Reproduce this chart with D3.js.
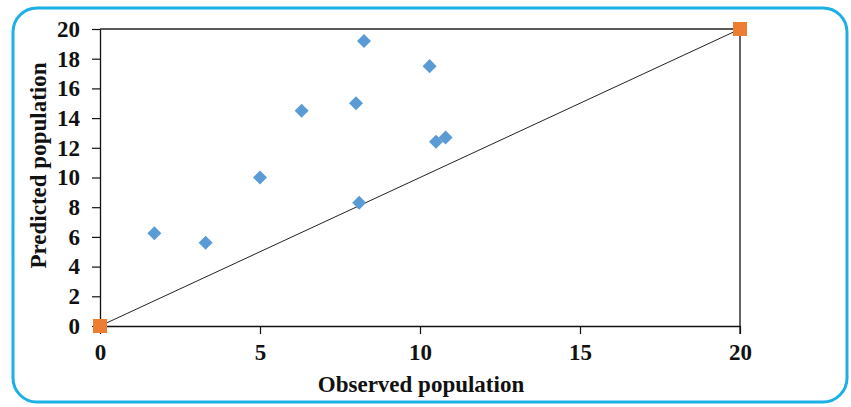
<!DOCTYPE html>
<html lang="en">
<head>
<meta charset="UTF-8">
<title>Observed vs predicted population</title>
<script src="https://d3js.org/d3.v7.min.js"></script>
<style>
  body { margin: 0; background: #fff; }
  svg text { font-family: "Liberation Serif", "Times New Roman", serif; font-weight: bold; }
</style>
</head>
<body>
<svg width="851" height="407"></svg>
<script>
// observed vs predicted (blue diamonds)
const observed  = [1.7, 3.3, 5.0, 6.3, 8.0, 8.25, 8.1, 10.3, 10.5, 10.8];
const predicted = [6.25, 5.6, 10.0, 14.5, 15.0, 19.2, 8.3, 17.5, 12.4, 12.7];
// reference 1:1 points (orange squares)
const refX = [0, 20];
const refY = [0, 20];
const xTicks = [0, 5, 10, 15, 20];
const yTicks = [0, 2, 4, 6, 8, 10, 12, 14, 16, 18, 20];

const svg = d3.select("svg");

// rounded blue frame
svg.append("rect")
   .attr("x", 13).attr("y", 8)
   .attr("width", 834).attr("height", 394)
   .attr("rx", 24).attr("ry", 24)
   .attr("fill", "none")
   .attr("stroke", "#1cb0e6")
   .attr("stroke-width", 3);

const x = d3.scaleLinear().domain([0, 20]).range([100, 740]);
const y = d3.scaleLinear().domain([0, 20]).range([326, 29]);

// top and right plot border
svg.append("line")
   .attr("x1", x(0)).attr("x2", x(20))
   .attr("y1", y(20)).attr("y2", y(20))
   .attr("stroke", "#222").attr("stroke-width", 1.3);
svg.append("line")
   .attr("x1", x(20)).attr("x2", x(20))
   .attr("y1", y(20)).attr("y2", y(0) + 8)
   .attr("stroke", "#3a3f44").attr("stroke-width", 1.6);

const xAxis = svg.append("g")
   .attr("transform", `translate(0,${y(0)})`)
   .call(d3.axisBottom(x).tickValues(xTicks).tickSize(8).tickSizeOuter(0).tickPadding(10));
const yAxis = svg.append("g")
   .attr("transform", `translate(${x(0)},0)`)
   .call(d3.axisLeft(y).tickValues(yTicks).tickSize(8).tickSizeOuter(0).tickPadding(12));

[xAxis, yAxis].forEach(a => {
  a.select(".domain").attr("stroke", "#111").attr("stroke-width", 1.3);
  a.selectAll(".tick line").attr("stroke", "#111").attr("stroke-width", 1.2);
  a.selectAll(".tick text")
   .attr("fill", "#111")
   .style("font-size", "23px")
   .style("font-family", "'Liberation Serif', serif")
   .style("font-weight", "bold");
});

// 1:1 line
svg.append("line")
   .attr("x1", x(refX[0])).attr("y1", y(refY[0]))
   .attr("x2", x(refX[1])).attr("y2", y(refY[1]))
   .attr("stroke", "#222").attr("stroke-width", 1);

// diamonds
const pts = observed.map((o, i) => ({o, p: predicted[i]}));
svg.selectAll(".pt")
   .data(pts)
   .enter().append("path")
   .attr("class", "pt")
   .attr("d", d3.symbol().type(d3.symbolDiamond2).size(125))
   .attr("transform", d => `translate(${x(d.o)},${y(d.p)})`)
   .attr("fill", "#5b9bd5");

// orange squares
svg.selectAll(".ref")
   .data(refX.map((v, i) => ({o: v, p: refY[i]})))
   .enter().append("rect")
   .attr("class", "ref")
   .attr("x", d => x(d.o) - 7).attr("y", d => y(d.p) - 7)
   .attr("width", 14).attr("height", 14)
   .attr("fill", "#ed7d31");

// axis titles
svg.append("text")
   .attr("x", 421).attr("y", 392)
   .attr("text-anchor", "middle")
   .attr("fill", "#111")
   .style("font-size", "23px")
   .text("Observed population");

svg.append("text")
   .attr("transform", `translate(46,${y(10) - 12}) rotate(-90)`)
   .attr("text-anchor", "middle")
   .attr("fill", "#111")
   .style("font-size", "23px")
   .text("Predicted population");
</script>
</body>
</html>
